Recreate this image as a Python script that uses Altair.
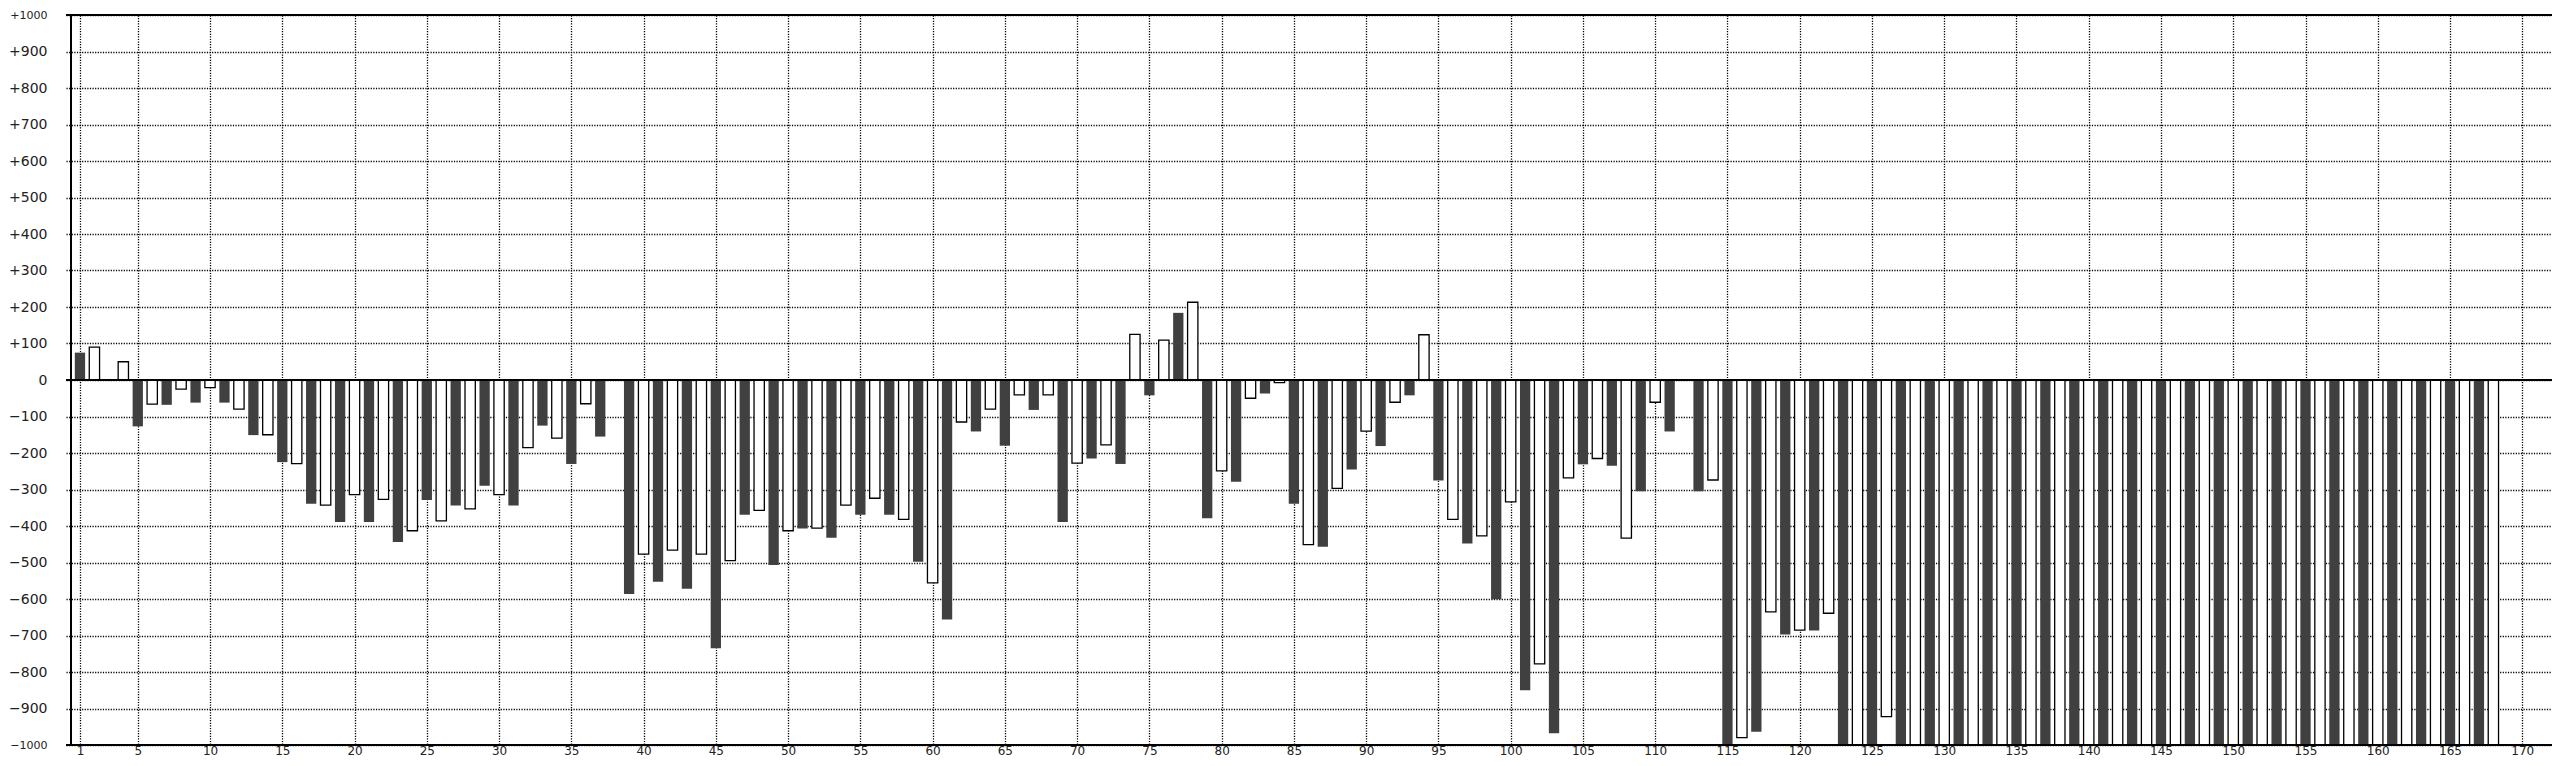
import altair as alt
import pandas as pd

# bar index (1..168); odd = dark bars, even = white bars
index = list(range(1, 169))

values = [
    75, 90, 0, 50, -127, -66, -68, -25, -62, -21,
    -62, -80, -151, -150, -225, -229, -339, -343, -389, -314,
    -389, -327, -444, -413, -329, -386, -344, -353, -290, -314,
    -344, -185, -125, -159, -230, -65, -155, 0, -586, -477,
    -553, -466, -572, -477, -735, -495, -369, -357, -507, -413,
    -407, -406, -432, -343, -369, -324, -369, -382, -498, -556,
    -656, -115, -141, -80, -180, -41, -82, -41, -389, -228,
    -215, -178, -230, 125, -42, 109, 184, 213, -379, -249,
    -279, -50, -37, -7, -339, -451, -457, -297, -245, -140,
    -181, -61, -42, 124, -275, -382, -448, -427, -601, -334,
    -850, -778, -968, -268, -231, -215, -235, -433, -305, -61,
    -141, 0, -305, -274, -1200, -980, -964, -635, -697, -685,
    -686, -639, -1200, -1200, -1200, -922, -1200, -1200, -1200, -1200,
    -1200, -1200, -1200, -1200, -1200, -1200, -1200, -1200, -1200, -1200,
    -1200, -1200, -1200, -1200, -1200, -1200, -1200, -1200, -1200, -1200,
    -1200, -1200, -1200, -1200, -1200, -1200, -1200, -1200, -1200, -1200,
    -1200, -1200, -1200, -1200, -1200, -1200, -1200, -1200,
]

x_tick_values = [1, 5, 10, 15, 20, 25, 30, 35, 40, 45, 50, 55, 60, 65, 70, 75, 80, 85,
                 90, 95, 100, 105, 110, 115, 120, 125, 130, 135, 140, 145, 150, 155,
                 160, 165, 170]
y_tick_values = [-1000, -900, -800, -700, -600, -500, -400, -300, -200, -100, 0,
                 100, 200, 300, 400, 500, 600, 700, 800, 900, 1000]

x_domain = [0.38, 171.71]
y_domain = [-1000, 1000]

df = pd.DataFrame({"n": index, "v": values})
df["parity"] = df["n"] % 2

xs = alt.Scale(domain=x_domain, nice=False, zero=False)
ys = alt.Scale(domain=y_domain, nice=False)

x_axis = alt.Axis(values=x_tick_values, grid=True, title=None, labelFlush=False,
                  labelOverlap=False, labelPadding=0, ticks=False, domain=False,
                  format="d", labelFontSize=12)
y_axis = alt.Axis(values=y_tick_values, grid=True, title=None, labelFlush=False,
                  labelOverlap=False, labelPadding=19, ticks=False, domain=False,
                  format="d",
                  labelFontSize={"condition": {"test": "abs(datum.value) >= 1000", "value": 11},
                                 "value": 14},
                  labelExpr="datum.value > 0 ? '+' + datum.label : datum.label")

X = alt.X("n:Q", scale=xs, axis=x_axis)
Y = alt.Y("v:Q", scale=ys, axis=y_axis, stack=None)

base = alt.Chart(df)

dark = base.transform_filter("datum.parity == 1").mark_bar(
    orient="vertical", size=10.3, color="#404040", clip=True
).encode(x=X, y=Y)

white = base.transform_filter("datum.parity == 0").mark_bar(
    orient="vertical", size=10.3, fill="white", stroke="black", strokeWidth=1.3, clip=True
).encode(x=X, y=Y)

zero_line = base.mark_rule(color="black", strokeWidth=1.5).encode(
    y=alt.YDatum(0, scale=ys, axis=y_axis)
)
top_line = base.mark_rule(color="black", strokeWidth=2).encode(
    y=alt.YDatum(y_domain[1], scale=ys, axis=y_axis)
)
bottom_line = base.mark_rule(color="black", strokeWidth=2).encode(
    y=alt.YDatum(y_domain[0], scale=ys, axis=y_axis)
)
left_line = base.mark_rule(color="black", strokeWidth=2).encode(
    x=alt.XDatum(x_domain[0], scale=xs, axis=x_axis)
)

chart = alt.layer(dark, white, zero_line, top_line, bottom_line, left_line).properties(
    width=2486, height=730,
    autosize=alt.AutoSizeParams(type="none"),
    padding={"left": 58, "top": 7, "right": 0, "bottom": 13},
).configure_view(stroke=None).configure_axis(
    labelFont="DejaVu Sans", labelColor="#222222",
    gridColor="black", gridDash=[1.2, 1.4], gridWidth=1.3, gridOpacity=1,
)

chart.save("out.html", embed_options={"renderer": "svg", "actions": False})
